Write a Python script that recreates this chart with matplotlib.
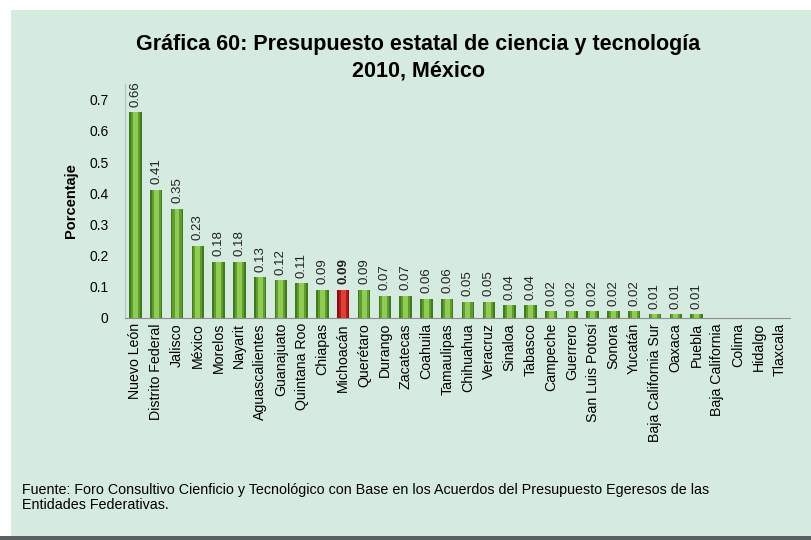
import matplotlib.pyplot as plt
from matplotlib.patches import Rectangle

plt.rcParams['font.family'] = ['Liberation Sans', 'DejaVu Sans']

estados = ["Nuevo León", "Distrito Federal", "Jalisco", "México", "Morelos", "Nayarit",
           "Aguascalientes", "Guanajuato", "Quintana Roo", "Chiapas", "Michoacán",
           "Querétaro", "Durango", "Zacatecas", "Coahuila", "Tamaulipas", "Chihuahua",
           "Veracruz", "Sinaloa", "Tabasco", "Campeche", "Guerrero", "San Luis Potosí",
           "Sonora", "Yucatán", "Baja California Sur", "Oaxaca", "Puebla",
           "Baja California", "Colima", "Hidalgo", "Tlaxcala"]
valores = [0.66, 0.41, 0.35, 0.23, 0.18, 0.18, 0.13, 0.12, 0.11, 0.09, 0.09,
           0.09, 0.07, 0.07, 0.06, 0.06, 0.05, 0.05, 0.04, 0.04, 0.02, 0.02, 0.02,
           0.02, 0.02, 0.01, 0.01, 0.01, 0, 0, 0, 0]
destacado = "Michoacán"
yticks = [0, 0.1, 0.2, 0.3, 0.4, 0.5, 0.6, 0.7]

bg = '#d6ebe0'
fig = plt.figure(figsize=(8.12, 5.4), dpi=100, facecolor='white')
# panel background with dark bottom edge
fig.patches.append(Rectangle((11/812, 3/540), 1 - 11/812, 1 - 13/540, transform=fig.transFigure,
                             facecolor=bg, edgecolor='none', zorder=-2))
fig.patches.append(Rectangle((0, 0), 1, 4/540, transform=fig.transFigure,
                             facecolor='#5a5e60', edgecolor='none', zorder=-1))

ax = fig.add_axes([0.154, 0.412, 0.819, 0.432])
ax.set_facecolor('none')

x = list(range(len(estados)))
# layered bars to imitate the gradient fill
layers_g = [(0.6, '#3f7a1c'), (0.44, '#5f9e2e'), (0.24, '#8fcb55')]
layers_r = [(0.6, '#8a0c0c'), (0.44, '#b3191a'), (0.24, '#d9413a')]
for i, (e, v) in enumerate(zip(estados, valores)):
    layers = layers_r if e == destacado else layers_g
    for w, c in layers:
        ax.bar(i, v, width=w, color=c, edgecolor='none', zorder=3)
    if v > 0:
        ax.annotate(f"{v:.2f}", (i, v), xytext=(0, 4), textcoords='offset points',
                    rotation=90, ha='center', va='bottom', fontsize=9.5, color='#222222',
                    fontweight='bold' if e == destacado else 'normal')

ax.set_xlim(-0.5, len(estados) - 0.5)
ax.set_ylim(0, 0.75)
ax.set_yticks(yticks)
ax.set_yticklabels([f"{t:g}" for t in yticks], fontsize=10)
ax.set_xticks(x)
ax.set_xticklabels(estados, rotation=90, fontsize=10.2)
ax.tick_params(axis='both', length=0, pad=4)
ax.tick_params(axis='y', pad=12)
for s in ['top', 'right']:
    ax.spines[s].set_visible(False)
ax.spines['left'].set_color('#b0c4ba')
ax.spines['bottom'].set_color('#8a8f8c')
ax.set_ylabel("Porcentaje", fontsize=10.5, fontweight='bold', labelpad=8)

fig.text(0.515, 0.893, "Gráfica 60: Presupuesto estatal de ciencia y tecnología\n2010, México",
         ha='center', va='center', fontsize=15.5, fontweight='bold', linespacing=1.38)
fig.text(0.027, 0.078,
         "Fuente: Foro Consultivo Cienficio y Tecnológico con Base en los Acuerdos del Presupuesto Egeresos de las\nEntidades Federativas.",
         ha='left', va='center', fontsize=10.3, linespacing=1.1)

fig.savefig("out.png", dpi=100, facecolor=fig.get_facecolor())
